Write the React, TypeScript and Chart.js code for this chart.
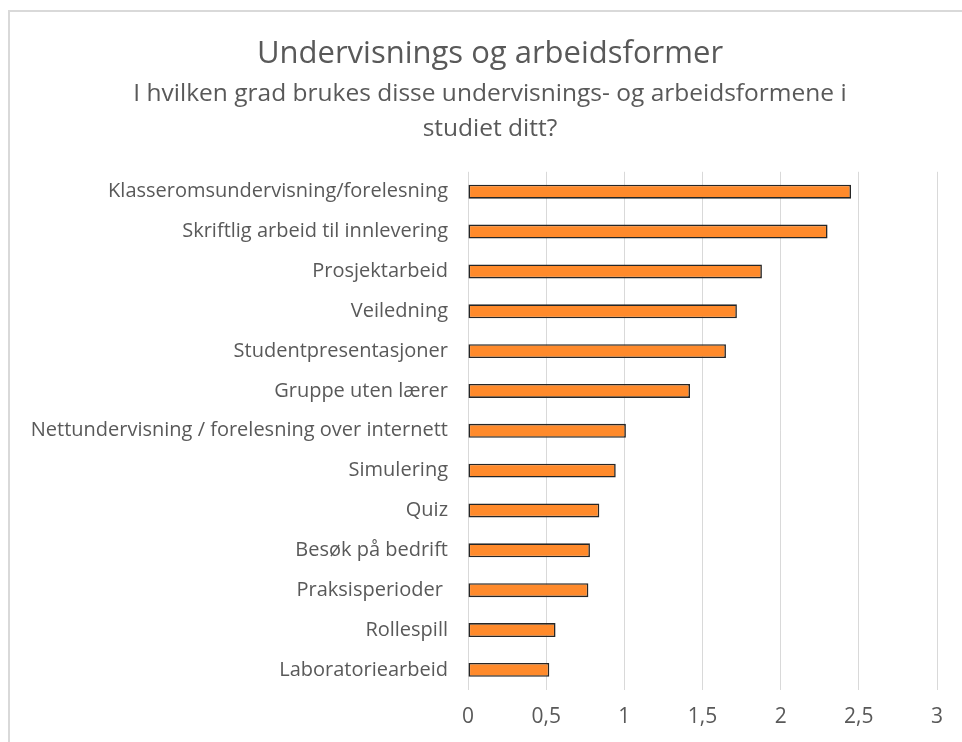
import React, { useEffect, useRef } from "react";
import { Chart, registerables } from "chart.js";

Chart.register(...registerables);

const categories = [
  "Klasseromsundervisning/forelesning",
  "Skriftlig arbeid til innlevering",
  "Prosjektarbeid",
  "Veiledning",
  "Studentpresentasjoner",
  "Gruppe uten lærer",
  "Nettundervisning / forelesning over internett",
  "Simulering",
  "Quiz",
  "Besøk på bedrift",
  "Praksisperioder ",
  "Rollespill",
  "Laboratoriearbeid",
];

const values = [2.45, 2.3, 1.88, 1.72, 1.65, 1.42, 1.01, 0.945, 0.84, 0.78, 0.77, 0.56, 0.52];

const xTicks = [0, 0.5, 1, 1.5, 2, 2.5, 3];

const titleText = "Undervisnings og arbeidsformer";
const subtitleLines = [
  "I hvilken grad brukes disse undervisnings- og arbeidsformene i",
  "studiet ditt?",
];

const FONT = "'Open Sans', 'Liberation Sans', sans-serif";
const TEXT = "#595959";

export default function App() {
  const ref = useRef<HTMLCanvasElement | null>(null);

  useEffect(() => {
    if (!ref.current) return;
    const chart = new Chart(ref.current, {
      type: "bar",
      data: {
        labels: categories,
        datasets: [
          {
            data: values,
            backgroundColor: "#FF8A2B",
            borderColor: "#262626",
            borderWidth: 1.6,
            barPercentage: 0.7,
            categoryPercentage: 0.5,
            borderSkipped: false,
          },
        ],
      },
      options: {
        indexAxis: "y",
        animation: false,
        responsive: false,
        maintainAspectRatio: false,
        layout: { padding: { left: 33, right: 33, top: 0, bottom: 12 } },
        plugins: {
          legend: { display: false },
          tooltip: { enabled: false },
          title: {
            display: true,
            text: titleText,
            color: TEXT,
            font: { family: FONT, size: 31, weight: "normal", lineHeight: 1.2 },
            padding: { top: 24, bottom: 3 },
          },
          subtitle: {
            display: true,
            text: subtitleLines,
            color: TEXT,
            font: { family: FONT, size: 24.5, weight: "normal", lineHeight: 1.41 },
            padding: { top: 1, bottom: 25.5 },
          },
        },
        scales: {
          x: {
            min: 0,
            max: 3,
            afterBuildTicks: (scale: any) => {
              scale.ticks = xTicks.map((v) => ({ value: v }));
            },
            ticks: {
              color: TEXT,
              font: { family: FONT, size: 21 },
              padding: 15,
              callback: (v: any) => String(v).replace(".", ","),
            },
            grid: { color: "#d9d9d9", lineWidth: 1, drawTicks: false },
            border: { display: false },
          },
          y: {
            afterFit: (scale: any) => {
              scale.width = 425;
              scale._computeLabelArea = () => undefined;
            },
            ticks: {
              color: TEXT,
              font: { family: FONT, size: 20 },
              padding: 20,
              autoSkip: false,
            },
            grid: { display: false, drawTicks: false },
            border: { display: false },
          },
        },
      },
    });
    return () => chart.destroy();
  }, []);

  return (
    <div
      style={{
        position: "absolute",
        left: 8,
        top: 10,
        width: 954,
        height: 732,
        overflow: "hidden",
      }}
    >
      <div
        style={{
          borderTop: "2px solid #d9d9d9",
          borderLeft: "2px solid #d9d9d9",
          width: 1000,
          height: 780,
          boxSizing: "border-box",
        }}
      >
        <canvas ref={ref} width={960} height={745} style={{ display: "block" }} />
      </div>
    </div>
  );
}
